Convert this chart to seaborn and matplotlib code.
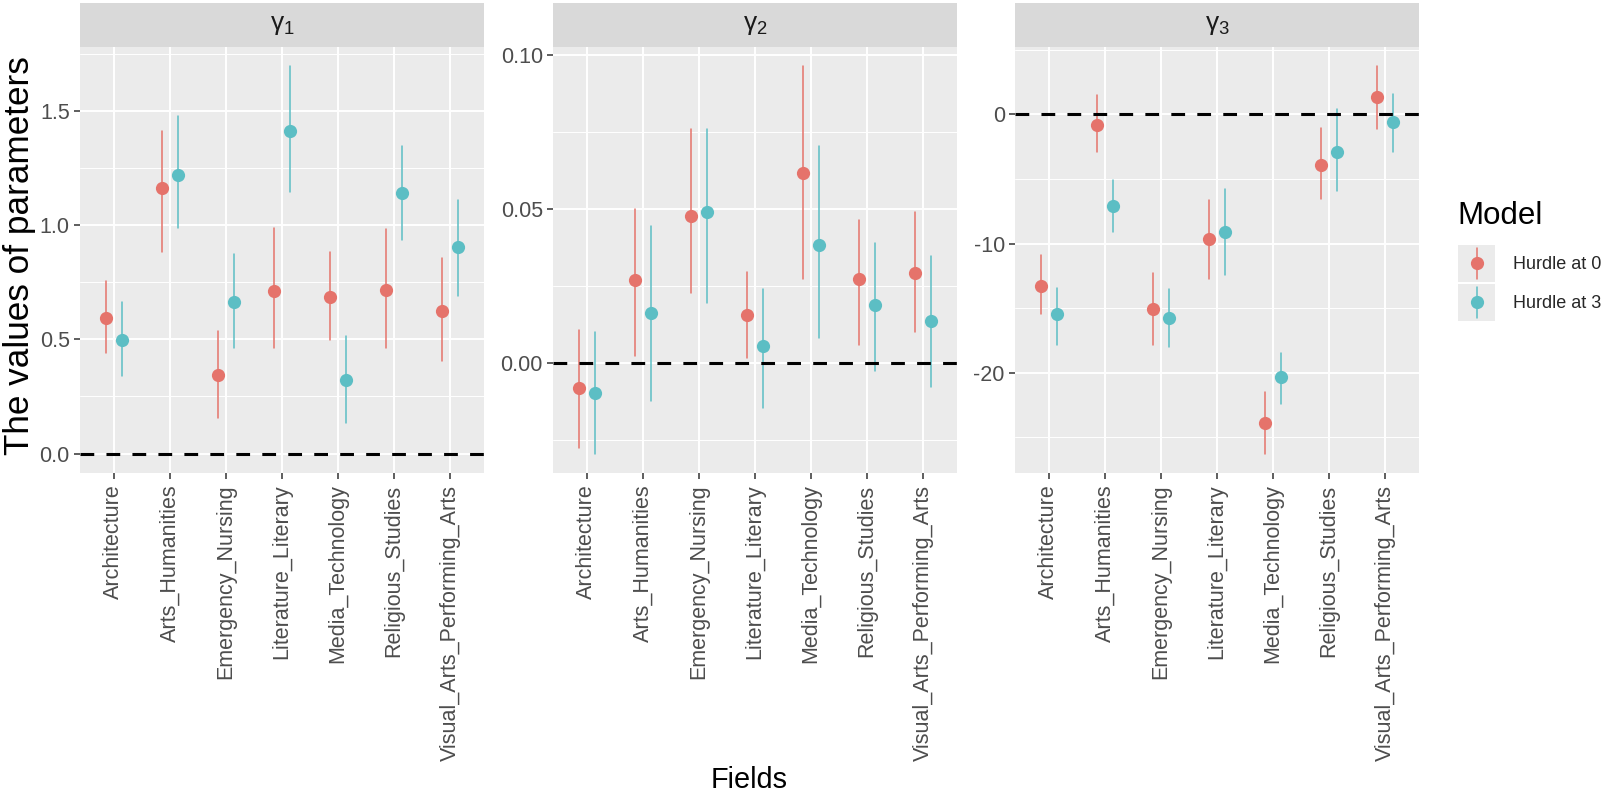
import pandas as pd
import seaborn as sns
import matplotlib.pyplot as plt
from matplotlib.lines import Line2D
from matplotlib.patches import Rectangle
from matplotlib.legend_handler import HandlerBase
from matplotlib.ticker import FixedLocator, FormatStrFormatter

# categories
fields = ["Architecture", "Arts_Humanities", "Emergency_Nursing", "Literature_Literary",
          "Media_Technology", "Religious_Studies", "Visual_Arts_Performing_Arts"]
models = ["Hurdle at 0", "Hurdle at 3"]
params = ["g1", "g2", "g3"]
strip_labels = [r"$\mathregular{\gamma_1}$", r"$\mathregular{\gamma_2}$", r"$\mathregular{\gamma_3}$"]

# gamma 1 (estimate, lower, upper)
g1_h0_est = [0.594, 1.160, 0.343, 0.712, 0.686, 0.715, 0.623]
g1_h0_lo = [0.440, 0.883, 0.157, 0.462, 0.498, 0.462, 0.407]
g1_h0_hi = [0.755, 1.410, 0.535, 0.988, 0.883, 0.981, 0.857]
g1_h3_est = [0.495, 1.219, 0.665, 1.412, 0.323, 1.138, 0.905]
g1_h3_lo = [0.338, 0.985, 0.462, 1.145, 0.135, 0.934, 0.690]
g1_h3_hi = [0.665, 1.475, 0.873, 1.694, 0.516, 1.344, 1.109]

# gamma 2
g2_h0_est = [-0.0079, 0.0269, 0.0478, 0.0156, 0.0616, 0.0272, 0.0293]
g2_h0_lo = [-0.0275, 0.0024, 0.0226, 0.0018, 0.0272, 0.0059, 0.0102]
g2_h0_hi = [0.0108, 0.0501, 0.0760, 0.0294, 0.0962, 0.0463, 0.0490]
g2_h3_est = [-0.0097, 0.0164, 0.0490, 0.0056, 0.0382, 0.0189, 0.0137]
g2_h3_lo = [-0.0293, -0.0122, 0.0196, -0.0146, 0.0083, -0.0025, -0.0076]
g2_h3_hi = [0.0102, 0.0444, 0.0760, 0.0242, 0.0703, 0.0391, 0.0348]

# gamma 3
g3_h0_est = [-13.32, -0.85, -15.04, -9.67, -23.91, -3.93, 1.34]
g3_h0_lo = [-15.43, -2.90, -17.82, -12.75, -26.25, -6.58, -1.16]
g3_h0_hi = [-10.88, 1.47, -12.29, -6.63, -21.50, -1.06, 3.70]
g3_h3_est = [-15.45, -7.07, -15.76, -9.08, -20.34, -2.95, -0.64]
g3_h3_lo = [-17.87, -9.08, -18.02, -12.47, -22.39, -5.91, -2.90]
g3_h3_hi = [-13.44, -5.09, -13.50, -5.78, -18.46, 0.39, 1.54]

# y axis ticks per panel
yticks = [[0.0, 0.5, 1.0, 1.5], [0.0, 0.05, 0.10], [-20, -10, 0]]
yminor = [[0.25, 0.75, 1.25, 1.75], [-0.025, 0.025, 0.075], [-25, -15, -5, 5]]
yfmt = ["%.1f", "%.2f", "%d"]

series = {
    ("g1", "Hurdle at 0"): (g1_h0_est, g1_h0_lo, g1_h0_hi),
    ("g1", "Hurdle at 3"): (g1_h3_est, g1_h3_lo, g1_h3_hi),
    ("g2", "Hurdle at 0"): (g2_h0_est, g2_h0_lo, g2_h0_hi),
    ("g2", "Hurdle at 3"): (g2_h3_est, g2_h3_lo, g2_h3_hi),
    ("g3", "Hurdle at 0"): (g3_h0_est, g3_h0_lo, g3_h0_hi),
    ("g3", "Hurdle at 3"): (g3_h3_est, g3_h3_lo, g3_h3_hi),
}

# long table: lower / estimate / upper as three rows, median = estimate, range = interval
rows = []
for (p, m), (est, lo, hi) in series.items():
    for f, e, l, h in zip(fields, est, lo, hi):
        for v in (l, e, h):
            rows.append({"param": p, "model": m, "field": f, "value": v})
df = pd.DataFrame(rows)

palette = {"Hurdle at 0": "#E5736B", "Hurdle at 3": "#5CBEC4"}

sns.set_theme(style="darkgrid", rc={
    "axes.facecolor": "#EBEBEB",
    "grid.color": "white",
    "axes.axisbelow": True,
})
plt.rcParams["font.family"] = ["Liberation Sans", "DejaVu Sans"]

W, H = 1603, 793
fig = plt.figure(figsize=(W / 100, H / 100), dpi=100)

panel_left = [80, 553, 1015]
panel_w = 404
panel_top, panel_bot = 47, 473
strip_top = 3

for i, p in enumerate(params):
    L = panel_left[i]
    ax = fig.add_axes([L / W, (H - panel_bot) / H, panel_w / W, (panel_bot - panel_top) / H])
    sub = df[df["param"] == p]
    sns.pointplot(data=sub, x="field", y="value", hue="model", order=fields,
                  hue_order=models, palette=palette, estimator="median",
                  errorbar=("pi", 100), dodge=0.29, linestyle="none", marker="o",
                  markersize=9.5, markeredgewidth=0, zorder=3,
                  err_kws={"linewidth": 1.1, "zorder": 2.2}, legend=False, ax=ax)
    ax.axhline(0, color="black", lw=2.2, linestyle=(0, (4.5, 4)), zorder=2.5)

    lo = min(sub["value"].min(), 0)
    hi = max(sub["value"].max(), 0)
    pad = 0.05 * (hi - lo)
    ax.set_ylim(lo - pad, hi + pad)
    ax.set_xlim(-0.6, len(fields) - 0.4)

    ax.yaxis.set_major_locator(FixedLocator(yticks[i]))
    ax.yaxis.set_major_formatter(FormatStrFormatter(yfmt[i]))
    ax.yaxis.set_minor_locator(FixedLocator(yminor[i]))
    ax.grid(True, which="major", color="white", lw=1.4)
    ax.grid(True, which="minor", axis="y", color="white", lw=0.7)
    ax.tick_params(which="major", bottom=True, left=True, length=4.3, width=1.1,
                   color="#333333", labelcolor="#4D4D4D", labelsize=15.5, pad=3)
    ax.tick_params(axis="x", labelrotation=90, labelsize=15.5, pad=4)
    ax.tick_params(which="minor", length=0)
    ax.set_xlabel("")
    ax.set_ylabel("")
    for s in ax.spines.values():
        s.set_visible(False)

    sax = fig.add_axes([L / W, (H - panel_top) / H, panel_w / W, (panel_top - strip_top) / H])
    sax.set_facecolor("#D9D9D9")
    sax.set_xticks([])
    sax.set_yticks([])
    sax.grid(False)
    for s in sax.spines.values():
        s.set_visible(False)
    sax.text(0.5, 0.5, strip_labels[i], ha="center", va="center", fontsize=19,
             color="#1A1A1A", transform=sax.transAxes)

fig.text(20 / W, 1 - 255.5 / H, "The values of parameters", rotation=90,
         ha="center", va="center", fontsize=25.3, color="black")
fig.text(749.5 / W, 1 - 788 / H, "Fields", ha="center", va="baseline",
         fontsize=20.8, color="black")


class KeyHandler(HandlerBase):
    def create_artists(self, legend, orig_handle, xdescent, ydescent,
                       width, height, fontsize, trans):
        bg = Rectangle((-xdescent, -ydescent), width, height, facecolor="#EBEBEB",
                       edgecolor="none", transform=trans)
        cx = -xdescent + width / 2
        cy = -ydescent + height / 2
        c = orig_handle.get_color()
        bar = Line2D([cx, cx], [-ydescent + 0.08 * height, -ydescent + 0.92 * height],
                     color=c, lw=1.1, transform=trans)
        dot = Line2D([cx], [cy], marker="o", markersize=9.5, markeredgewidth=0,
                     color=c, linestyle="none", transform=trans)
        return [bg, bar, dot]


fig.text(1457 / W, 1 - 224.5 / H, "Model", ha="left", va="baseline",
         fontsize=22.5, color="black")
handles = [Line2D([], [], color=palette[m]) for m in models]
leg = fig.legend(handles, models, loc="upper left",
                 bbox_to_anchor=(1458 / W, 1 - 245 / H), frameon=False,
                 fontsize=13, handlelength=2.05, handleheight=2.77,
                 labelspacing=0.11, handletextpad=1.0, borderpad=0, borderaxespad=0,
                 handler_map={Line2D: KeyHandler()})

fig.savefig("out.png", dpi=100)
